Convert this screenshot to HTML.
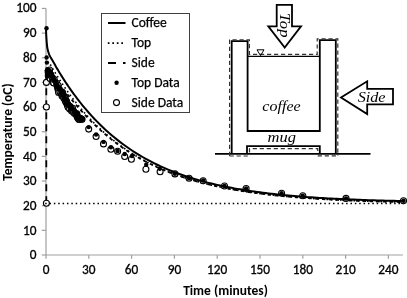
<!DOCTYPE html>
<html><head><meta charset="utf-8"><style>html,body{margin:0;padding:0;background:#fff;overflow:hidden}svg{display:block}</style></head>
<body><svg width="407" height="298" viewBox="0 0 407 298">
<rect width="407" height="298" fill="#fff"/>
<line x1="46.0" y1="8.4" x2="46.0" y2="255.0" stroke="#a0a0a0" stroke-width="1.2"/><line x1="46.0" y1="255.0" x2="402.8" y2="255.0" stroke="#a0a0a0" stroke-width="1.2"/><line x1="41.8" y1="255.00" x2="46.0" y2="255.00" stroke="#a0a0a0" stroke-width="1.2"/><line x1="41.8" y1="230.34" x2="46.0" y2="230.34" stroke="#a0a0a0" stroke-width="1.2"/><line x1="41.8" y1="205.69" x2="46.0" y2="205.69" stroke="#a0a0a0" stroke-width="1.2"/><line x1="41.8" y1="181.03" x2="46.0" y2="181.03" stroke="#a0a0a0" stroke-width="1.2"/><line x1="41.8" y1="156.38" x2="46.0" y2="156.38" stroke="#a0a0a0" stroke-width="1.2"/><line x1="41.8" y1="131.72" x2="46.0" y2="131.72" stroke="#a0a0a0" stroke-width="1.2"/><line x1="41.8" y1="107.06" x2="46.0" y2="107.06" stroke="#a0a0a0" stroke-width="1.2"/><line x1="41.8" y1="82.41" x2="46.0" y2="82.41" stroke="#a0a0a0" stroke-width="1.2"/><line x1="41.8" y1="57.75" x2="46.0" y2="57.75" stroke="#a0a0a0" stroke-width="1.2"/><line x1="41.8" y1="33.10" x2="46.0" y2="33.10" stroke="#a0a0a0" stroke-width="1.2"/><line x1="41.8" y1="8.44" x2="46.0" y2="8.44" stroke="#a0a0a0" stroke-width="1.2"/><line x1="46.00" y1="255.0" x2="46.00" y2="258.8" stroke="#a0a0a0" stroke-width="1.2"/><line x1="88.80" y1="255.0" x2="88.80" y2="258.8" stroke="#a0a0a0" stroke-width="1.2"/><line x1="131.60" y1="255.0" x2="131.60" y2="258.8" stroke="#a0a0a0" stroke-width="1.2"/><line x1="174.40" y1="255.0" x2="174.40" y2="258.8" stroke="#a0a0a0" stroke-width="1.2"/><line x1="217.20" y1="255.0" x2="217.20" y2="258.8" stroke="#a0a0a0" stroke-width="1.2"/><line x1="260.00" y1="255.0" x2="260.00" y2="258.8" stroke="#a0a0a0" stroke-width="1.2"/><line x1="302.81" y1="255.0" x2="302.81" y2="258.8" stroke="#a0a0a0" stroke-width="1.2"/><line x1="345.61" y1="255.0" x2="345.61" y2="258.8" stroke="#a0a0a0" stroke-width="1.2"/><line x1="388.41" y1="255.0" x2="388.41" y2="258.8" stroke="#a0a0a0" stroke-width="1.2"/>
<g font-family="Carlito, 'Liberation Sans', sans-serif" font-size="13.3" fill="#000" stroke="#000" stroke-width="0.3"><text x="36.6" y="259.20" text-anchor="end" textLength="6.74" lengthAdjust="spacingAndGlyphs">0</text><text x="36.6" y="234.54" text-anchor="end" textLength="13.48" lengthAdjust="spacingAndGlyphs">10</text><text x="36.6" y="209.89" text-anchor="end" textLength="13.48" lengthAdjust="spacingAndGlyphs">20</text><text x="36.6" y="185.23" text-anchor="end" textLength="13.48" lengthAdjust="spacingAndGlyphs">30</text><text x="36.6" y="160.58" text-anchor="end" textLength="13.48" lengthAdjust="spacingAndGlyphs">40</text><text x="36.6" y="135.92" text-anchor="end" textLength="13.48" lengthAdjust="spacingAndGlyphs">50</text><text x="36.6" y="111.26" text-anchor="end" textLength="13.48" lengthAdjust="spacingAndGlyphs">60</text><text x="36.6" y="86.61" text-anchor="end" textLength="13.48" lengthAdjust="spacingAndGlyphs">70</text><text x="36.6" y="61.95" text-anchor="end" textLength="13.48" lengthAdjust="spacingAndGlyphs">80</text><text x="36.6" y="37.30" text-anchor="end" textLength="13.48" lengthAdjust="spacingAndGlyphs">90</text><text x="36.6" y="11.84" text-anchor="end" textLength="20.23" lengthAdjust="spacingAndGlyphs">100</text><text x="46.00" y="274" text-anchor="middle" textLength="6.74" lengthAdjust="spacingAndGlyphs">0</text><text x="88.80" y="274" text-anchor="middle" textLength="13.48" lengthAdjust="spacingAndGlyphs">30</text><text x="131.60" y="274" text-anchor="middle" textLength="13.48" lengthAdjust="spacingAndGlyphs">60</text><text x="174.40" y="274" text-anchor="middle" textLength="13.48" lengthAdjust="spacingAndGlyphs">90</text><text x="217.20" y="274" text-anchor="middle" textLength="20.23" lengthAdjust="spacingAndGlyphs">120</text><text x="260.00" y="274" text-anchor="middle" textLength="20.23" lengthAdjust="spacingAndGlyphs">150</text><text x="302.81" y="274" text-anchor="middle" textLength="20.23" lengthAdjust="spacingAndGlyphs">180</text><text x="345.61" y="274" text-anchor="middle" textLength="20.23" lengthAdjust="spacingAndGlyphs">210</text><text x="388.41" y="274" text-anchor="middle" textLength="20.23" lengthAdjust="spacingAndGlyphs">240</text></g>
<text x="225.5" y="295" text-anchor="middle" font-family="Carlito, 'Liberation Sans', sans-serif" font-size="13.5" font-weight="bold" textLength="84.73" lengthAdjust="spacingAndGlyphs">Time (minutes)</text>
<text transform="translate(12,132) rotate(-90)" text-anchor="middle" font-family="Carlito, 'Liberation Sans', sans-serif" font-size="13.5" font-weight="bold" textLength="97.41" lengthAdjust="spacingAndGlyphs">Temperature (oC)</text>
<path d="M46.30,203.22 L46.30,67.61" fill="none" stroke="#000" stroke-width="1.8" stroke-dasharray="7 5"/>
<path d="M46.30,67.61 L50.28,72.49 L50.42,72.66 L50.57,72.84 L50.71,73.01 L50.85,73.19 L50.99,73.36 L51.14,73.54 L51.28,73.72 L51.42,73.89 L51.56,74.07 L51.71,74.25 L52.42,75.14 L53.13,76.04 L53.85,76.94 L54.56,77.85 L55.27,78.76 L55.99,79.68 L56.70,80.60 L57.41,81.52 L58.13,82.44 L58.84,83.36 L59.55,84.28 L60.27,85.20 L60.98,86.13 L61.69,87.04 L62.41,87.96 L63.12,88.88 L63.83,89.79 L64.55,90.70 L65.26,91.61 L65.97,92.52 L66.69,93.42 L67.40,94.32 L68.11,95.21 L68.83,96.10 L69.54,96.98 L70.25,97.87 L70.97,98.74 L71.68,99.61 L72.39,100.48 L73.11,101.34 L73.82,102.20 L74.53,103.05 L77.39,106.40 L80.24,109.66 L83.09,112.83 L85.95,115.91 L88.80,118.90 L91.65,121.79 L94.51,124.59 L97.36,127.30 L100.21,129.93 L103.07,132.46 L105.92,134.91 L108.77,137.28 L111.63,139.58 L114.48,141.79 L117.34,143.93 L120.19,146.00 L123.04,147.99 L125.90,149.92 L128.75,151.78 L131.60,153.58 L134.46,155.32 L137.31,157.00 L140.16,158.62 L143.02,160.18 L145.87,161.69 L148.72,163.15 L151.58,164.56 L154.43,165.92 L157.28,167.23 L160.14,168.50 L162.99,169.73 L165.84,170.91 L168.70,172.05 L171.55,173.15 L174.40,174.22 L177.26,175.24 L180.11,176.24 L182.96,177.19 L185.82,178.12 L188.67,179.01 L191.52,179.87 L194.38,180.71 L197.23,181.51 L200.08,182.28 L202.94,183.03 L205.79,183.76 L208.64,184.45 L211.50,185.13 L214.35,185.78 L217.20,186.40 L220.06,187.01 L222.91,187.60 L225.76,188.16 L228.62,188.70 L231.47,189.23 L234.32,189.74 L237.18,190.23 L240.03,190.70 L242.88,191.16 L245.74,191.60 L248.59,192.03 L251.44,192.44 L254.30,192.83 L257.15,193.22 L260.00,193.58 L262.86,193.94 L265.71,194.29 L268.57,194.62 L271.42,194.94 L274.27,195.25 L277.13,195.55 L279.98,195.83 L282.83,196.11 L285.69,196.38 L288.54,196.64 L291.39,196.89 L294.25,197.13 L297.10,197.36 L299.95,197.59 L302.81,197.81 L305.66,198.02 L308.51,198.22 L311.37,198.41 L314.22,198.60 L317.07,198.78 L319.93,198.96 L322.78,199.13 L325.63,199.29 L328.49,199.45 L331.34,199.60 L334.19,199.75 L337.05,199.89 L339.90,200.03 L342.75,200.16 L345.61,200.29 L348.46,200.41 L351.31,200.53 L354.17,200.64 L357.02,200.75 L359.87,200.86 L362.73,200.96 L365.58,201.06 L368.43,201.16 L371.29,201.25 L374.14,201.34 L376.99,201.42 L379.85,201.51 L382.70,201.59 L385.55,201.67 L388.41,201.74 L391.26,201.81 L394.11,201.88 L396.97,201.95 L399.82,202.01 L402.96,202.08" fill="none" stroke="#000" stroke-width="1.8" stroke-dasharray="3.4 3.4"/>
<path d="M50.28,64.49 L50.42,64.73 L50.57,64.98 L50.71,65.23 L50.85,65.47 L50.99,65.72 L51.14,65.96 L51.28,66.21 L51.42,66.45 L51.56,66.69 L51.71,66.94 L52.42,68.14 L53.13,69.34 L53.85,70.53 L54.56,71.70 L55.27,72.87 L55.99,74.03 L56.70,75.17 L57.41,76.31 L58.13,77.43 L58.84,78.55 L59.55,79.65 L60.27,80.75 L60.98,81.84 L61.69,82.91 L62.41,83.98 L63.12,85.04 L63.83,86.09 L64.55,87.13 L65.26,88.16 L65.97,89.18 L66.69,90.19 L67.40,91.19 L68.11,92.19 L68.83,93.17 L69.54,94.15 L70.25,95.12 L70.97,96.08 L71.68,97.03 L72.39,97.97 L73.11,98.91 L73.82,99.84 L74.53,100.75 L77.39,104.35 L80.24,107.82 L83.09,111.16 L85.95,114.39 L88.80,117.51 L91.65,120.52 L94.51,123.43 L97.36,126.23 L100.21,128.94 L103.07,131.55 L105.92,134.07 L108.77,136.51 L111.63,138.86 L114.48,141.12 L117.34,143.31 L120.19,145.42 L123.04,147.46 L125.90,149.43 L128.75,151.33 L131.60,153.16 L134.46,154.93 L137.31,156.64 L140.16,158.29 L143.02,159.88 L145.87,161.41 L148.72,162.89 L151.58,164.32 L154.43,165.70 L157.28,167.03 L160.14,168.32 L162.99,169.56 L165.84,170.75 L168.70,171.91 L171.55,173.02 L174.40,174.10 L177.26,175.14 L180.11,176.14 L182.96,177.11 L185.82,178.04 L188.67,178.94 L191.52,179.81 L194.38,180.65 L197.23,181.46 L200.08,182.24 L202.94,183.00 L205.79,183.72 L208.64,184.43 L211.50,185.11 L214.35,185.76 L217.20,186.39 L220.06,187.00 L222.91,187.59 L225.76,188.16 L228.62,188.70 L231.47,189.23 L234.32,189.74 L237.18,190.23 L240.03,190.71 L242.88,191.17 L245.74,191.61 L248.59,192.04 L251.44,192.45 L254.30,192.85 L257.15,193.23 L260.00,193.60 L262.86,193.96 L265.71,194.30 L268.57,194.63 L271.42,194.95 L274.27,195.26 L277.13,195.56 L279.98,195.85 L282.83,196.13 L285.69,196.40 L288.54,196.66 L291.39,196.91 L294.25,197.15 L297.10,197.38 L299.95,197.61 L302.81,197.82 L305.66,198.03 L308.51,198.24 L311.37,198.43 L314.22,198.62 L317.07,198.80 L319.93,198.98 L322.78,199.14 L325.63,199.31 L328.49,199.46 L331.34,199.62 L334.19,199.76 L337.05,199.90 L339.90,200.04 L342.75,200.17 L345.61,200.30 L348.46,200.42 L351.31,200.54 L354.17,200.65 L357.02,200.77 L359.87,200.87 L362.73,200.97 L365.58,201.07 L368.43,201.17 L371.29,201.26 L374.14,201.35 L376.99,201.44 L379.85,201.52 L382.70,201.60 L385.55,201.68 L388.41,201.75 L391.26,201.82 L394.11,201.89 L396.97,201.96 L399.82,202.02 L402.96,202.09" fill="none" stroke="#000" stroke-width="1.6" stroke-dasharray="1.6 2.9"/>
<g fill="#fff" stroke="#000" stroke-width="1.1"><circle cx="46.40" cy="203.20" r="3"/>
<circle cx="46.40" cy="107.00" r="3"/>
<circle cx="46.40" cy="82.40" r="3"/>
<circle cx="49.53" cy="70.01" r="3"/>
<circle cx="48.18" cy="72.35" r="3"/>
<circle cx="48.28" cy="75.52" r="3"/>
<circle cx="49.13" cy="73.39" r="3"/>
<circle cx="50.13" cy="74.34" r="3"/>
<circle cx="50.28" cy="76.24" r="3"/>
<circle cx="50.60" cy="76.19" r="3"/>
<circle cx="51.03" cy="77.16" r="3"/>
<circle cx="52.23" cy="77.54" r="3"/>
<circle cx="50.04" cy="78.54" r="3"/>
<circle cx="52.61" cy="79.01" r="3"/>
<circle cx="52.84" cy="79.17" r="3"/>
<circle cx="53.36" cy="80.68" r="3"/>
<circle cx="54.04" cy="81.00" r="3"/>
<circle cx="54.19" cy="79.54" r="3"/>
<circle cx="53.29" cy="82.02" r="3"/>
<circle cx="53.42" cy="82.03" r="3"/>
<circle cx="53.74" cy="83.00" r="3"/>
<circle cx="56.78" cy="83.20" r="3"/>
<circle cx="57.06" cy="84.71" r="3"/>
<circle cx="57.66" cy="85.94" r="3"/>
<circle cx="57.14" cy="85.65" r="3"/>
<circle cx="58.27" cy="85.76" r="3"/>
<circle cx="57.88" cy="87.87" r="3"/>
<circle cx="58.13" cy="89.00" r="3"/>
<circle cx="58.32" cy="89.04" r="3"/>
<circle cx="58.41" cy="89.62" r="3"/>
<circle cx="59.54" cy="91.99" r="3"/>
<circle cx="58.37" cy="90.65" r="3"/>
<circle cx="58.62" cy="92.39" r="3"/>
<circle cx="59.95" cy="91.69" r="3"/>
<circle cx="62.48" cy="92.80" r="3"/>
<circle cx="62.70" cy="94.14" r="3"/>
<circle cx="61.75" cy="93.73" r="3"/>
<circle cx="62.09" cy="94.66" r="3"/>
<circle cx="62.07" cy="96.00" r="3"/>
<circle cx="62.75" cy="95.53" r="3"/>
<circle cx="64.15" cy="97.03" r="3"/>
<circle cx="64.04" cy="96.66" r="3"/>
<circle cx="63.79" cy="98.09" r="3"/>
<circle cx="65.32" cy="98.84" r="3"/>
<circle cx="65.56" cy="101.01" r="3"/>
<circle cx="65.16" cy="100.62" r="3"/>
<circle cx="66.61" cy="101.33" r="3"/>
<circle cx="66.18" cy="102.48" r="3"/>
<circle cx="67.37" cy="104.15" r="3"/>
<circle cx="67.17" cy="103.84" r="3"/>
<circle cx="67.43" cy="105.15" r="3"/>
<circle cx="67.37" cy="104.05" r="3"/>
<circle cx="68.32" cy="106.14" r="3"/>
<circle cx="69.86" cy="106.23" r="3"/>
<circle cx="68.10" cy="107.20" r="3"/>
<circle cx="69.72" cy="108.08" r="3"/>
<circle cx="70.48" cy="107.52" r="3"/>
<circle cx="70.64" cy="108.40" r="3"/>
<circle cx="69.74" cy="109.04" r="3"/>
<circle cx="72.63" cy="108.41" r="3"/>
<circle cx="71.51" cy="110.77" r="3"/>
<circle cx="72.56" cy="110.92" r="3"/>
<circle cx="73.68" cy="112.16" r="3"/>
<circle cx="73.69" cy="111.87" r="3"/>
<circle cx="73.55" cy="112.33" r="3"/>
<circle cx="74.64" cy="113.59" r="3"/>
<circle cx="76.87" cy="113.75" r="3"/>
<circle cx="76.22" cy="113.91" r="3"/>
<circle cx="76.32" cy="114.70" r="3"/>
<circle cx="77.49" cy="116.49" r="3"/>
<circle cx="77.33" cy="117.17" r="3"/>
<circle cx="78.33" cy="118.10" r="3"/>
<circle cx="78.83" cy="119.15" r="3"/>
<circle cx="78.84" cy="119.20" r="3"/>
<circle cx="80.38" cy="118.29" r="3"/>
<circle cx="79.78" cy="119.51" r="3"/>
<circle cx="82.05" cy="119.25" r="3"/>
<circle cx="88.70" cy="129.10" r="3"/>
<circle cx="96.10" cy="136.50" r="3"/>
<circle cx="103.50" cy="143.90" r="3"/>
<circle cx="110.90" cy="149.20" r="3"/>
<circle cx="117.60" cy="151.20" r="3"/>
<circle cx="124.70" cy="156.50" r="3"/>
<circle cx="131.40" cy="159.20" r="3"/>
<circle cx="145.90" cy="169.30" r="3"/>
<circle cx="160.10" cy="171.70" r="3"/>
<circle cx="174.90" cy="173.90" r="3"/>
<circle cx="189.10" cy="178.30" r="3"/>
<circle cx="203.10" cy="180.80" r="3"/>
<circle cx="224.50" cy="186.00" r="3"/>
<circle cx="246.10" cy="188.50" r="3"/>
<circle cx="281.60" cy="193.20" r="3"/>
<circle cx="302.80" cy="195.80" r="3"/>
<circle cx="346.00" cy="198.40" r="3"/>
<circle cx="403.50" cy="200.70" r="3"/></g>
<g fill="#000"><circle cx="46.50" cy="28.30" r="2.2"/>
<circle cx="46.60" cy="57.50" r="2.2"/>
<circle cx="46.90" cy="62.60" r="2.2"/>
<circle cx="48.29" cy="69.80" r="2.2"/>
<circle cx="46.98" cy="70.73" r="2.2"/>
<circle cx="48.94" cy="71.35" r="2.2"/>
<circle cx="48.49" cy="71.98" r="2.2"/>
<circle cx="50.37" cy="72.77" r="2.2"/>
<circle cx="50.54" cy="73.20" r="2.2"/>
<circle cx="51.98" cy="74.02" r="2.2"/>
<circle cx="50.48" cy="74.65" r="2.2"/>
<circle cx="51.58" cy="76.01" r="2.2"/>
<circle cx="51.25" cy="75.06" r="2.2"/>
<circle cx="52.01" cy="76.17" r="2.2"/>
<circle cx="53.71" cy="78.13" r="2.2"/>
<circle cx="52.98" cy="77.65" r="2.2"/>
<circle cx="53.38" cy="78.45" r="2.2"/>
<circle cx="54.42" cy="80.03" r="2.2"/>
<circle cx="53.66" cy="80.91" r="2.2"/>
<circle cx="55.24" cy="81.88" r="2.2"/>
<circle cx="55.38" cy="81.33" r="2.2"/>
<circle cx="55.81" cy="81.70" r="2.2"/>
<circle cx="55.71" cy="81.92" r="2.2"/>
<circle cx="56.91" cy="84.61" r="2.2"/>
<circle cx="56.24" cy="83.94" r="2.2"/>
<circle cx="56.79" cy="84.96" r="2.2"/>
<circle cx="56.75" cy="84.66" r="2.2"/>
<circle cx="58.56" cy="86.71" r="2.2"/>
<circle cx="58.28" cy="87.81" r="2.2"/>
<circle cx="58.79" cy="88.30" r="2.2"/>
<circle cx="60.33" cy="89.65" r="2.2"/>
<circle cx="59.27" cy="89.66" r="2.2"/>
<circle cx="60.86" cy="89.06" r="2.2"/>
<circle cx="60.56" cy="91.10" r="2.2"/>
<circle cx="61.49" cy="91.44" r="2.2"/>
<circle cx="62.33" cy="91.26" r="2.2"/>
<circle cx="62.84" cy="93.16" r="2.2"/>
<circle cx="62.54" cy="92.89" r="2.2"/>
<circle cx="64.35" cy="93.89" r="2.2"/>
<circle cx="62.10" cy="95.11" r="2.2"/>
<circle cx="63.69" cy="95.51" r="2.2"/>
<circle cx="63.53" cy="96.20" r="2.2"/>
<circle cx="63.66" cy="96.59" r="2.2"/>
<circle cx="64.51" cy="98.09" r="2.2"/>
<circle cx="63.55" cy="98.82" r="2.2"/>
<circle cx="65.98" cy="99.68" r="2.2"/>
<circle cx="66.91" cy="99.43" r="2.2"/>
<circle cx="65.79" cy="101.84" r="2.2"/>
<circle cx="66.54" cy="100.76" r="2.2"/>
<circle cx="66.54" cy="101.99" r="2.2"/>
<circle cx="66.87" cy="103.16" r="2.2"/>
<circle cx="67.23" cy="102.29" r="2.2"/>
<circle cx="68.23" cy="104.26" r="2.2"/>
<circle cx="68.76" cy="104.25" r="2.2"/>
<circle cx="67.89" cy="105.52" r="2.2"/>
<circle cx="69.58" cy="105.11" r="2.2"/>
<circle cx="70.00" cy="106.34" r="2.2"/>
<circle cx="70.05" cy="106.80" r="2.2"/>
<circle cx="70.30" cy="108.34" r="2.2"/>
<circle cx="71.74" cy="108.09" r="2.2"/>
<circle cx="71.82" cy="107.56" r="2.2"/>
<circle cx="72.72" cy="108.56" r="2.2"/>
<circle cx="72.34" cy="109.58" r="2.2"/>
<circle cx="74.87" cy="110.81" r="2.2"/>
<circle cx="74.11" cy="112.89" r="2.2"/>
<circle cx="75.02" cy="111.87" r="2.2"/>
<circle cx="75.69" cy="112.63" r="2.2"/>
<circle cx="76.92" cy="113.05" r="2.2"/>
<circle cx="75.68" cy="114.15" r="2.2"/>
<circle cx="77.55" cy="114.87" r="2.2"/>
<circle cx="77.63" cy="114.91" r="2.2"/>
<circle cx="77.89" cy="115.35" r="2.2"/>
<circle cx="78.08" cy="116.15" r="2.2"/>
<circle cx="77.55" cy="117.00" r="2.2"/>
<circle cx="80.49" cy="117.63" r="2.2"/>
<circle cx="78.99" cy="117.37" r="2.2"/>
<circle cx="81.97" cy="118.22" r="2.2"/>
<circle cx="79.50" cy="119.80" r="2.2"/>
<circle cx="81.80" cy="120.60" r="2.2"/>
<circle cx="77.20" cy="118.60" r="2.2"/>
<circle cx="80.50" cy="117.50" r="2.2"/>
<circle cx="83.00" cy="119.00" r="2.2"/>
<circle cx="46.80" cy="70.60" r="2.2"/>
<circle cx="48.80" cy="69.80" r="2.2"/>
<circle cx="50.80" cy="71.50" r="2.2"/>
<circle cx="47.50" cy="74.00" r="2.2"/>
<circle cx="50.00" cy="74.50" r="2.2"/>
<circle cx="52.00" cy="75.00" r="2.2"/>
<circle cx="47.50" cy="76.50" r="2.2"/>
<circle cx="88.70" cy="127.10" r="2.2"/>
<circle cx="96.10" cy="134.50" r="2.2"/>
<circle cx="103.50" cy="141.90" r="2.2"/>
<circle cx="110.90" cy="147.20" r="2.2"/>
<circle cx="117.60" cy="151.00" r="2.2"/>
<circle cx="124.70" cy="154.00" r="2.2"/>
<circle cx="131.90" cy="156.00" r="2.2"/>
<circle cx="146.20" cy="164.80" r="2.2"/>
<circle cx="159.80" cy="168.80" r="2.2"/>
<circle cx="174.90" cy="173.80" r="2.2"/>
<circle cx="189.10" cy="178.20" r="2.2"/>
<circle cx="203.10" cy="180.50" r="2.2"/>
<circle cx="224.50" cy="186.00" r="2.2"/>
<circle cx="246.10" cy="188.50" r="2.2"/>
<circle cx="281.60" cy="193.20" r="2.2"/>
<circle cx="302.80" cy="195.80" r="2.2"/>
<circle cx="346.00" cy="198.40" r="2.2"/>
<circle cx="403.50" cy="200.70" r="2.2"/></g>
<line x1="45.15" y1="203.4" x2="403.5" y2="203.4" stroke="#000" stroke-width="1.5" stroke-dasharray="1.5 2.862"/>

<path d="M46.00,28.00 L46.10,32.00 L46.30,36.00 L46.70,42.00 L47.20,47.10 L48.00,51.10 L49.20,54.60 L51.00,58.10 L53.10,61.60 L55.10,65.10 L55.99,66.71 L56.70,67.92 L57.41,69.13 L58.13,70.32 L58.84,71.51 L59.55,72.68 L60.27,73.84 L60.98,74.99 L61.69,76.14 L62.41,77.27 L63.12,78.39 L63.83,79.50 L64.55,80.60 L65.26,81.69 L65.97,82.77 L66.69,83.85 L67.40,84.91 L68.11,85.96 L68.83,87.01 L69.54,88.04 L70.25,89.06 L70.97,90.08 L71.68,91.09 L72.39,92.08 L73.11,93.07 L73.82,94.05 L74.53,95.03 L77.39,98.82 L80.24,102.49 L83.09,106.03 L85.95,109.44 L88.80,112.73 L91.65,115.90 L94.51,118.97 L97.36,121.92 L100.21,124.77 L103.07,127.53 L105.92,130.18 L108.77,132.74 L111.63,135.21 L114.48,137.59 L117.34,139.89 L120.19,142.11 L123.04,144.25 L125.90,146.31 L128.75,148.30 L131.60,150.23 L134.46,152.08 L137.31,153.87 L140.16,155.59 L143.02,157.26 L145.87,158.86 L148.72,160.41 L151.58,161.91 L154.43,163.35 L157.28,164.74 L160.14,166.08 L162.99,167.38 L165.84,168.62 L168.70,169.83 L171.55,170.99 L174.40,172.11 L177.26,173.20 L180.11,174.24 L182.96,175.25 L185.82,176.22 L188.67,177.16 L191.52,178.06 L194.38,178.93 L197.23,179.77 L200.08,180.59 L202.94,181.37 L205.79,182.12 L208.64,182.85 L211.50,183.56 L214.35,184.24 L217.20,184.89 L220.06,185.52 L222.91,186.13 L225.76,186.72 L228.62,187.29 L231.47,187.83 L234.32,188.36 L237.18,188.87 L240.03,189.36 L242.88,189.84 L245.74,190.29 L248.59,190.73 L251.44,191.16 L254.30,191.57 L257.15,191.97 L260.00,192.35 L262.86,192.72 L265.71,193.07 L268.57,193.42 L271.42,193.75 L274.27,194.07 L277.13,194.38 L279.98,194.67 L282.83,194.96 L285.69,195.24 L288.54,195.50 L291.39,195.76 L294.25,196.01 L297.10,196.25 L299.95,196.48 L302.81,196.70 L305.66,196.92 L308.51,197.13 L311.37,197.33 L314.22,197.52 L317.07,197.71 L319.93,197.89 L322.78,198.06 L325.63,198.23 L328.49,198.39 L331.34,198.54 L334.19,198.69 L337.05,198.84 L339.90,198.98 L342.75,199.11 L345.61,199.24 L348.46,199.37 L351.31,199.49 L354.17,199.61 L357.02,199.72 L359.87,199.83 L362.73,199.93 L365.58,200.04 L368.43,200.13 L371.29,200.23 L374.14,200.32 L376.99,200.41 L379.85,200.49 L382.70,200.57 L385.55,200.65 L388.41,200.73 L391.26,200.80 L394.11,200.87 L396.97,200.94 L399.82,201.01 L402.96,201.08" fill="none" stroke="#000" stroke-width="2"/>
<rect x="101.5" y="13.5" width="88" height="99" fill="#fff" stroke="#404040" stroke-width="1"/>
<line x1="108" y1="23" x2="125.5" y2="23" stroke="#000" stroke-width="2"/>
<line x1="107.8" y1="43.1" x2="123.4" y2="43.1" stroke="#000" stroke-width="1.7" stroke-dasharray="1.7 2.8"/>
<line x1="108" y1="63" x2="125.5" y2="63" stroke="#000" stroke-width="2" stroke-dasharray="8 7"/>
<circle cx="116.6" cy="82.8" r="2.2" fill="#000"/>
<circle cx="116.5" cy="102.6" r="3" fill="#fff" stroke="#000" stroke-width="1.1"/>
<g font-family="Carlito, 'Liberation Sans', sans-serif" font-size="13.5" fill="#000" stroke="#000" stroke-width="0.25">
<text x="131.5" y="27" textLength="35.30" lengthAdjust="spacingAndGlyphs">Coffee</text>
<text x="131.5" y="47" textLength="19.59" lengthAdjust="spacingAndGlyphs">Top</text>
<text x="131.5" y="67" textLength="23.13" lengthAdjust="spacingAndGlyphs">Side</text>
<text x="131.5" y="87" textLength="48.13" lengthAdjust="spacingAndGlyphs">Top Data</text>
<text x="131.5" y="106.6" textLength="51.64" lengthAdjust="spacingAndGlyphs">Side Data</text>
</g>
<g fill="none" stroke="#000" stroke-width="1.8">
<polygon points="276.7,4.9 292,4.9 292,26.3 301,26.3 284.7,47.6 268.3,26.3 276.7,26.3" fill="#fff"/>
<path d="M231.7,153.8 V41.2 H247.6 V131 H319.8 V40.2 H335.8 V153.8"/>
<path d="M247.6,56.4 H319.8" stroke-width="1.3"/>
<path d="M247,153.8 V146.2 H319.8 V153.8"/>
<path d="M215,153.8 H370.5"/>
<polygon points="393,88.8 367.2,88.8 367.2,81.3 341,97.5 367.2,114 367.2,104.4 393,104.4" fill="#fff"/>
</g>
<g fill="none" stroke="#333" stroke-width="1.2" stroke-dasharray="4.2 2.8">
<path d="M229.6,156 V39.9 H249.4 V54.4 H317.2 V38.9 H337.8 V156"/>
<path d="M229.6,156 H249.5"/>
<path d="M317.7,155.8 H337.8"/>
<path d="M249.5,152.5 V148.7 H317.7 V152.5"/>
</g>
<polygon points="257,49.8 264,49.8 260.5,55.6" fill="none" stroke="#000" stroke-width="1"/>
<g font-family="'Liberation Serif', serif" font-style="italic" fill="#000">
<text transform="translate(281.5,110.6) scale(1.07,1)" font-size="15" text-anchor="middle">coffee</text>
<text transform="translate(281.7,141.5) scale(1.1,1)" font-size="15" text-anchor="middle">mug</text>
<text transform="translate(371.6,101.8) scale(1.08,1)" font-size="15" text-anchor="middle">Side</text>
<text transform="translate(280.3,25.3) rotate(90) scale(1.15,1)" font-size="14.5" text-anchor="middle">Top</text>
</g>
</svg></body></html>
